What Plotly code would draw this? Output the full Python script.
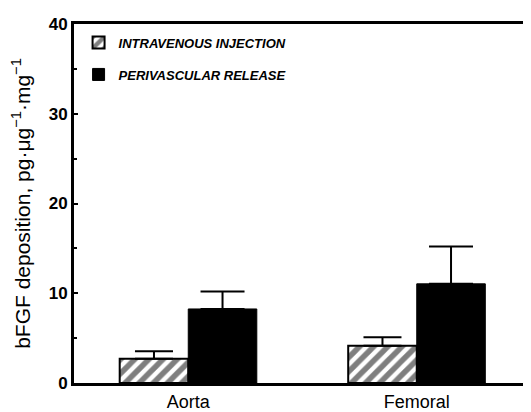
import plotly.graph_objects as go

categories = ["Aorta", "Femoral"]
iv_values = [2.7, 4.15]
iv_err_top = [3.55, 5.1]
pv_values = [8.25, 11.05]
pv_err_top = [10.2, 15.2]
y_ticks = [0, 10, 20, 30, 40]

xpos = list(range(len(categories)))

fig = go.Figure()
fig.add_trace(go.Bar(
    x=xpos, y=iv_values, name="INTRAVENOUS INJECTION", legendgroup="a",
    marker=dict(color="white", line=dict(color="black", width=2),
                pattern=dict(shape="/", fgcolor="black", bgcolor="white", size=10, solidity=0.55)),
    error_y=dict(type="data", symmetric=False,
                 array=[t - v for t, v in zip(iv_err_top, iv_values)],
                 arrayminus=[0] * len(iv_values), color="black", thickness=2, width=19),
))
fig.add_trace(go.Bar(
    x=xpos, y=pv_values, name="PERIVASCULAR RELEASE", legendgroup="b",
    marker=dict(color="black", line=dict(color="black", width=1)),
    error_y=dict(type="data", symmetric=False,
                 array=[t - v for t, v in zip(pv_err_top, pv_values)],
                 arrayminus=[0] * len(pv_values), color="black", thickness=2, width=22),
))

fig.update_layout(
    width=523, height=404,
    margin=dict(l=66, r=0, t=16, b=29),
    paper_bgcolor="white", plot_bgcolor="white",
    barmode="group", bargap=0.4, bargroupgap=0,
    font=dict(family="Liberation Sans", color="black"),
    legend=dict(x=0.01, y=0.99, xanchor="left", yanchor="top",
                bgcolor="rgba(0,0,0,0)", tracegroupgap=12,
                font=dict(family="Liberation Sans", size=13, weight="bold", style="italic")),
    showlegend=True,
)
fig.update_xaxes(
    range=[-0.5, 1.5], tickvals=xpos, ticktext=categories,
    showline=True, linecolor="black", linewidth=3, mirror=True,
    showgrid=False, zeroline=False, ticks="",
    tickfont=dict(size=18, family="Liberation Sans"),
)
fig.update_yaxes(
    range=[0, 40], tickvals=y_ticks,
    showline=True, linecolor="black", linewidth=3,
    showgrid=False, zeroline=False,
    ticks="inside", ticklen=4, tickwidth=2, tickcolor="black",
    minor=dict(dtick=5, tick0=0, ticks="inside", ticklen=3, tickwidth=2, tickcolor="black"),
    tickfont=dict(size=17, family="Liberation Sans", weight="bold"),
    title=dict(text="bFGF deposition, pg·μg<sup>−1</sup>·mg<sup>−1</sup>",
               font=dict(size=21, family="Liberation Sans"), standoff=20),
)

fig.write_html("out.html")
